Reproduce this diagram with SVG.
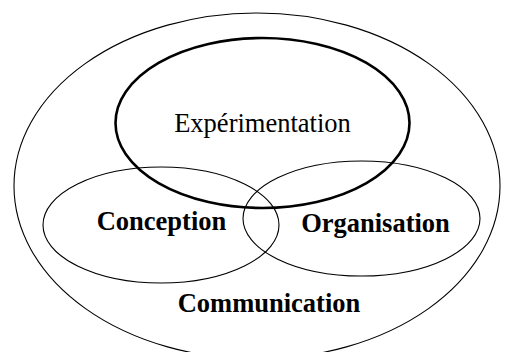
<svg xmlns="http://www.w3.org/2000/svg" width="514" height="352" viewBox="0 0 514 352">
<style>
.e{fill:none;stroke:#000;stroke-width:1.1}
.t{font-family:"Liberation Serif","Times New Roman",serif;font-size:26.5px;fill:#000;text-anchor:middle}
.b{font-weight:bold}
</style>
<rect width="514" height="352" fill="#fff"/>
<g id="communication">
<ellipse class="e" cx="257" cy="186" rx="243" ry="173"/>
<text class="t b" x="269" y="312">Communication</text>
</g>
<g id="conception">
<ellipse class="e" cx="161" cy="225" rx="118" ry="58"/>
<text class="t b" x="161.5" y="230">Conception</text>
</g>
<g id="organisation">
<ellipse class="e" cx="361.5" cy="218.5" rx="118.5" ry="57.5"/>
<text class="t b" x="375.5" y="232">Organisation</text>
</g>
<g id="experimentation">
<ellipse class="e" style="stroke-width:2.6" cx="262.5" cy="123" rx="147" ry="85"/>
<text class="t" x="262.5" y="132">Expérimentation</text>
</g>
<g id="connectors"></g>
</svg>
